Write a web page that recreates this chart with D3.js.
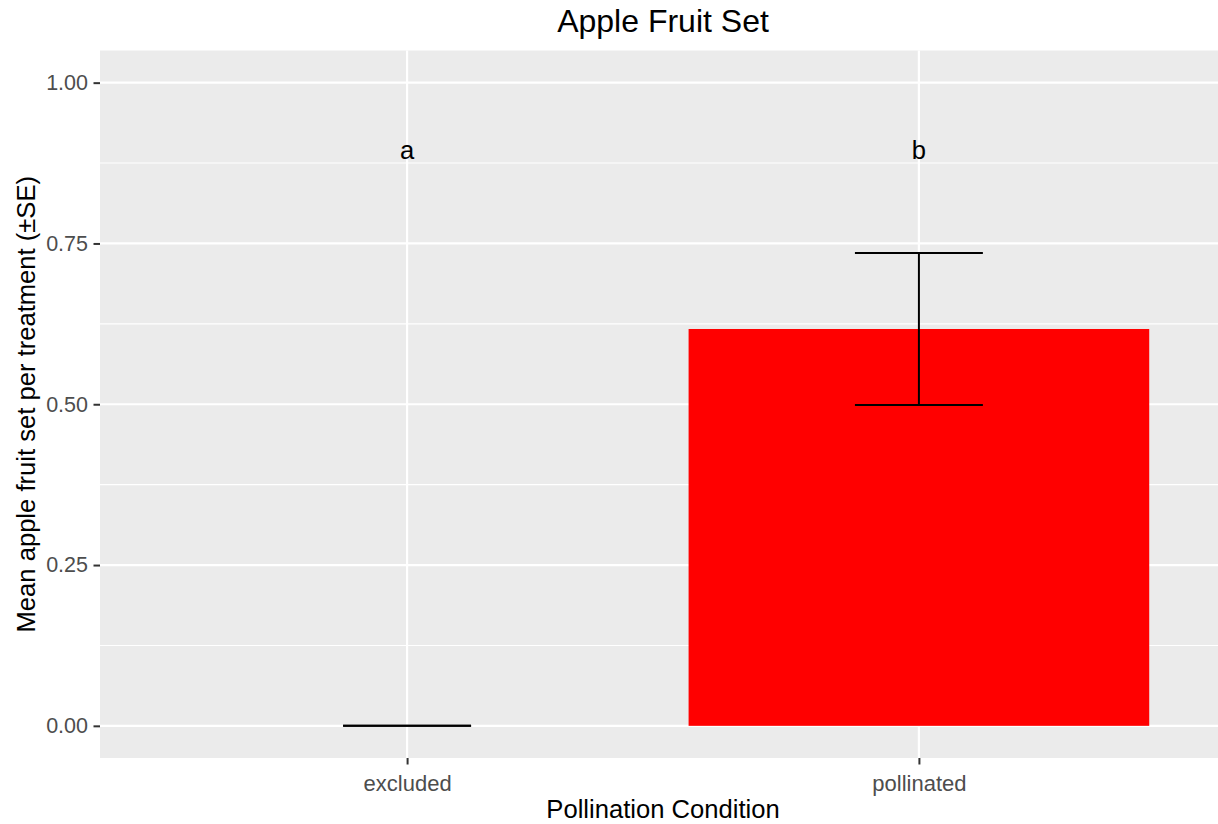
<!DOCTYPE html>
<html>
<head>
<meta charset="utf-8">
<script src="https://cdn.jsdelivr.net/npm/d3@7"></script>
<style>
  html, body { margin: 0; padding: 0; background: #ffffff; }
  svg { display: block; font-family: "Liberation Sans", Arial, sans-serif; }
</style>
</head>
<body>
<svg id="chart" width="1218" height="824"></svg>
<script>
// Pollination treatments and mean fruit set (± standard error)
const categories = ["excluded", "pollinated"];
const meanFruitSet = [0, 0.617];
const stdError = [0, 0.118];
const groupLetters = ["a", "b"];
const letterHeight = 0.9;
const yTicks = [0, 0.25, 0.5, 0.75, 1.0];
const yMinorTicks = [0.125, 0.375, 0.625, 0.875];

const svg = d3.select("#chart");
const W = 1218, H = 824;
const panel = { left: 100, right: 1226, top: 50.5, bottom: 758 };

svg.append("rect").attr("width", W).attr("height", H).attr("fill", "#ffffff");

const x = d3.scalePoint()
  .domain(categories)
  .range([panel.left, panel.right])
  .padding(0.6);
const step = x.step();

const y = d3.scaleLinear()
  .domain([-0.05, 1.05])
  .range([panel.bottom, panel.top]);

// panel background
svg.append("rect")
  .attr("x", panel.left).attr("y", panel.top)
  .attr("width", panel.right - panel.left)
  .attr("height", panel.bottom - panel.top)
  .attr("fill", "#EBEBEB");

const grid = svg.append("g");
grid.selectAll("line.minor").data(yMinorTicks).join("line")
  .attr("class", "minor")
  .attr("x1", panel.left).attr("x2", panel.right)
  .attr("y1", d => y(d)).attr("y2", d => y(d))
  .attr("stroke", "#ffffff").attr("stroke-width", 1.1);
grid.selectAll("line.major").data(yTicks).join("line")
  .attr("class", "major")
  .attr("x1", panel.left).attr("x2", panel.right)
  .attr("y1", d => y(d)).attr("y2", d => y(d))
  .attr("stroke", "#ffffff").attr("stroke-width", 2.2);
grid.selectAll("line.vmajor").data(categories).join("line")
  .attr("class", "vmajor")
  .attr("x1", d => x(d)).attr("x2", d => x(d))
  .attr("y1", panel.top).attr("y2", panel.bottom)
  .attr("stroke", "#ffffff").attr("stroke-width", 2.2);

// bars
const barW = step * 0.9;
svg.append("g").selectAll("rect").data(categories).join("rect")
  .attr("x", d => x(d) - barW / 2)
  .attr("width", barW)
  .attr("y", (d, i) => y(meanFruitSet[i]))
  .attr("height", (d, i) => y(0) - y(meanFruitSet[i]))
  .attr("fill", "#FF0000");

// error bars
const ebW = step * 0.25;
const eb = svg.append("g").attr("stroke", "#000000").attr("stroke-width", 2).attr("fill", "none");
categories.forEach((c, i) => {
  const lo = meanFruitSet[i] - stdError[i];
  const hi = meanFruitSet[i] + stdError[i];
  const cx = x(c);
  eb.append("line").attr("x1", cx).attr("x2", cx).attr("y1", y(lo)).attr("y2", y(hi));
  eb.append("line").attr("x1", cx - ebW / 2).attr("x2", cx + ebW / 2).attr("y1", y(hi)).attr("y2", y(hi));
  eb.append("line").attr("x1", cx - ebW / 2).attr("x2", cx + ebW / 2).attr("y1", y(lo)).attr("y2", y(lo));
});

// significance letters
svg.append("g").selectAll("text").data(categories).join("text")
  .attr("x", d => x(d))
  .attr("y", y(letterHeight))
  .attr("dy", "0.48em")
  .attr("text-anchor", "middle")
  .attr("font-size", 25.6)
  .attr("fill", "#000000")
  .text((d, i) => groupLetters[i]);

// axes
const yAxis = d3.axisLeft(y)
  .tickValues(yTicks)
  .tickFormat(d3.format(".2f"))
  .tickSize(6.5)
  .tickPadding(5.5);
const gy = svg.append("g").attr("transform", `translate(${panel.left},0)`).call(yAxis);
gy.select(".domain").remove();
gy.selectAll(".tick line").attr("stroke", "#333333").attr("stroke-width", 2);
gy.selectAll(".tick text")
  .attr("font-size", 21.5)
  .attr("font-family", "'Liberation Sans', Arial, sans-serif")
  .attr("fill", "#4D4D4D");

const xAxis = d3.axisBottom(x).tickSize(6.5).tickPadding(10.5);
const gx = svg.append("g").attr("transform", `translate(0,${panel.bottom})`).call(xAxis);
gx.select(".domain").remove();
gx.selectAll(".tick line").attr("stroke", "#333333").attr("stroke-width", 2);
gx.selectAll(".tick text")
  .attr("font-size", 22)
  .attr("font-family", "'Liberation Sans', Arial, sans-serif")
  .attr("fill", "#4D4D4D");

// titles
const midX = (panel.left + panel.right) / 2;
svg.append("text")
  .attr("x", midX).attr("y", 32)
  .attr("text-anchor", "middle")
  .attr("font-size", 32)
  .attr("fill", "#000000")
  .text("Apple Fruit Set");

svg.append("text")
  .attr("x", midX).attr("y", 818)
  .attr("text-anchor", "middle")
  .attr("font-size", 25.6)
  .attr("fill", "#000000")
  .text("Pollination Condition");

svg.append("text")
  .attr("transform", `translate(35,${(panel.top + panel.bottom) / 2}) rotate(-90)`)
  .attr("text-anchor", "middle")
  .attr("font-size", 25.6)
  .attr("fill", "#000000")
  .text("Mean apple fruit set per treatment (±SE)");
</script>
</body>
</html>
